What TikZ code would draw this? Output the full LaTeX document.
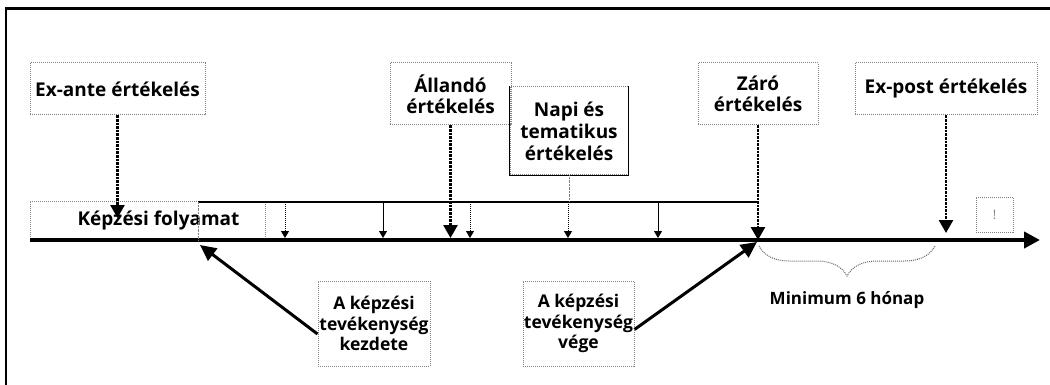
\documentclass[tikz,border=0pt]{standalone}
\usepackage{fontspec}
\setmainfont{Open Sans}
\usetikzlibrary{arrows.meta,decorations.pathreplacing}
\tikzset{
    box/.style={draw=gray,densely dotted,line width=1pt,inner sep=0pt,align=center,
        font=\bfseries\fontsize{19}{20.5}\selectfont},
    smallbox/.style={box,font=\bfseries\fontsize{17.5}{20.5}\selectfont},
    evalarrow/.style={densely dotted,line width=2.6pt,-{Triangle[width=14pt,length=13pt]}},
    startarrow/.style={line width=3pt,-{Triangle[width=15pt,length=16pt]}},
    tickarrow/.style={line width=1pt,-{Triangle[width=8pt,length=7pt]}},
}
\begin{document}
\begin{tikzpicture}[x=1pt,y=-1pt]
    \useasboundingbox (0,0) rectangle (1050,385);
    \draw[line width=2.5pt] (6,385) -- (6,8.5) -- (1050,8.5);

    \node[box,minimum width=175pt,minimum height=52pt] (exante) at (117.5,89) {Ex-ante értékelés};
    \node[box,minimum width=121pt,minimum height=62pt] (allando) at (450.5,94) {Állandó\\értékelés};
    \node[box,minimum width=118pt,minimum height=88pt,font=\bfseries\fontsize{19}{22}\selectfont] (napi) at (569,131) {Napi és\\tematikus\\értékelés};
    \node[box,minimum width=120pt,minimum height=62pt] (zaro) at (758,94) {Záró\\értékelés};
    \node[box,minimum width=182pt,minimum height=52pt] (expost) at (946,89) {Ex-post értékelés};
    \node[box,minimum width=235pt,minimum height=39pt] (kepzes) at (147.5,220.5) {\hspace*{22pt}Képzési folyamat};
    \node[box,minimum width=37pt,minimum height=35pt,font=\fontsize{13}{14}\selectfont,text=gray] (felkiaj) at (994.5,214.5) {!};
    \node[smallbox,minimum width=112pt,minimum height=85pt] (kezdet) at (374,323.5) {A képzési\\tevékenység\\kezdete};
    \node[smallbox,minimum width=111pt,minimum height=85pt] (vege) at (578.5,323.5) {A képzési\\tevékenység\\vége};
    \draw[solid,line width=1.5pt] (napi.north west) -- (napi.south west) -- (napi.south east) -- (napi.north east);

    \coordinate (t0) at (30,240);
    \coordinate (t1) at (1040,240);
    \coordinate (b0) at (198,202);
    \coordinate (b1) at (757,202);
    \draw[line width=4pt,-{Triangle[width=16pt,length=16pt]}] (t0) -- (t1);

    \draw[line width=1.2pt] (b0) -- (b1);
    \draw[gray,densely dotted] (b0) -- (b0 |- t0);
    \draw[gray,densely dotted] (napi.south) -- (napi.south |- b0);
    \foreach \x/\s in {285/densely dotted,383/solid,470/densely dotted,568/densely dotted,658/solid}{
        \draw[tickarrow,\s] (\x,202) -- (\x,238);
    }

    \draw[evalarrow] (exante.south) -- (117.5,218);
    \draw[evalarrow,shorten >=2pt] (allando.south) -- (allando.south |- t0);
    \draw[evalarrow] (zaro.south) -- (zaro.south |- t0);
    \draw[evalarrow] (expost.south) -- (946,233);

    \draw[startarrow] ([yshift=-10.5pt]kezdet.west) -- (200,245);
    \draw[startarrow] ([yshift=-6pt]vege.east) -- (757,242);

    \draw[gray!80!black,densely dotted,line width=1pt,decorate,decoration={brace,mirror,amplitude=30pt}] (759,246) -- (935,246);
    \node[font=\bfseries\fontsize{17}{19}\selectfont] (minimum) at (847,300) {Minimum 6 hónap};
\end{tikzpicture}
\end{document}
